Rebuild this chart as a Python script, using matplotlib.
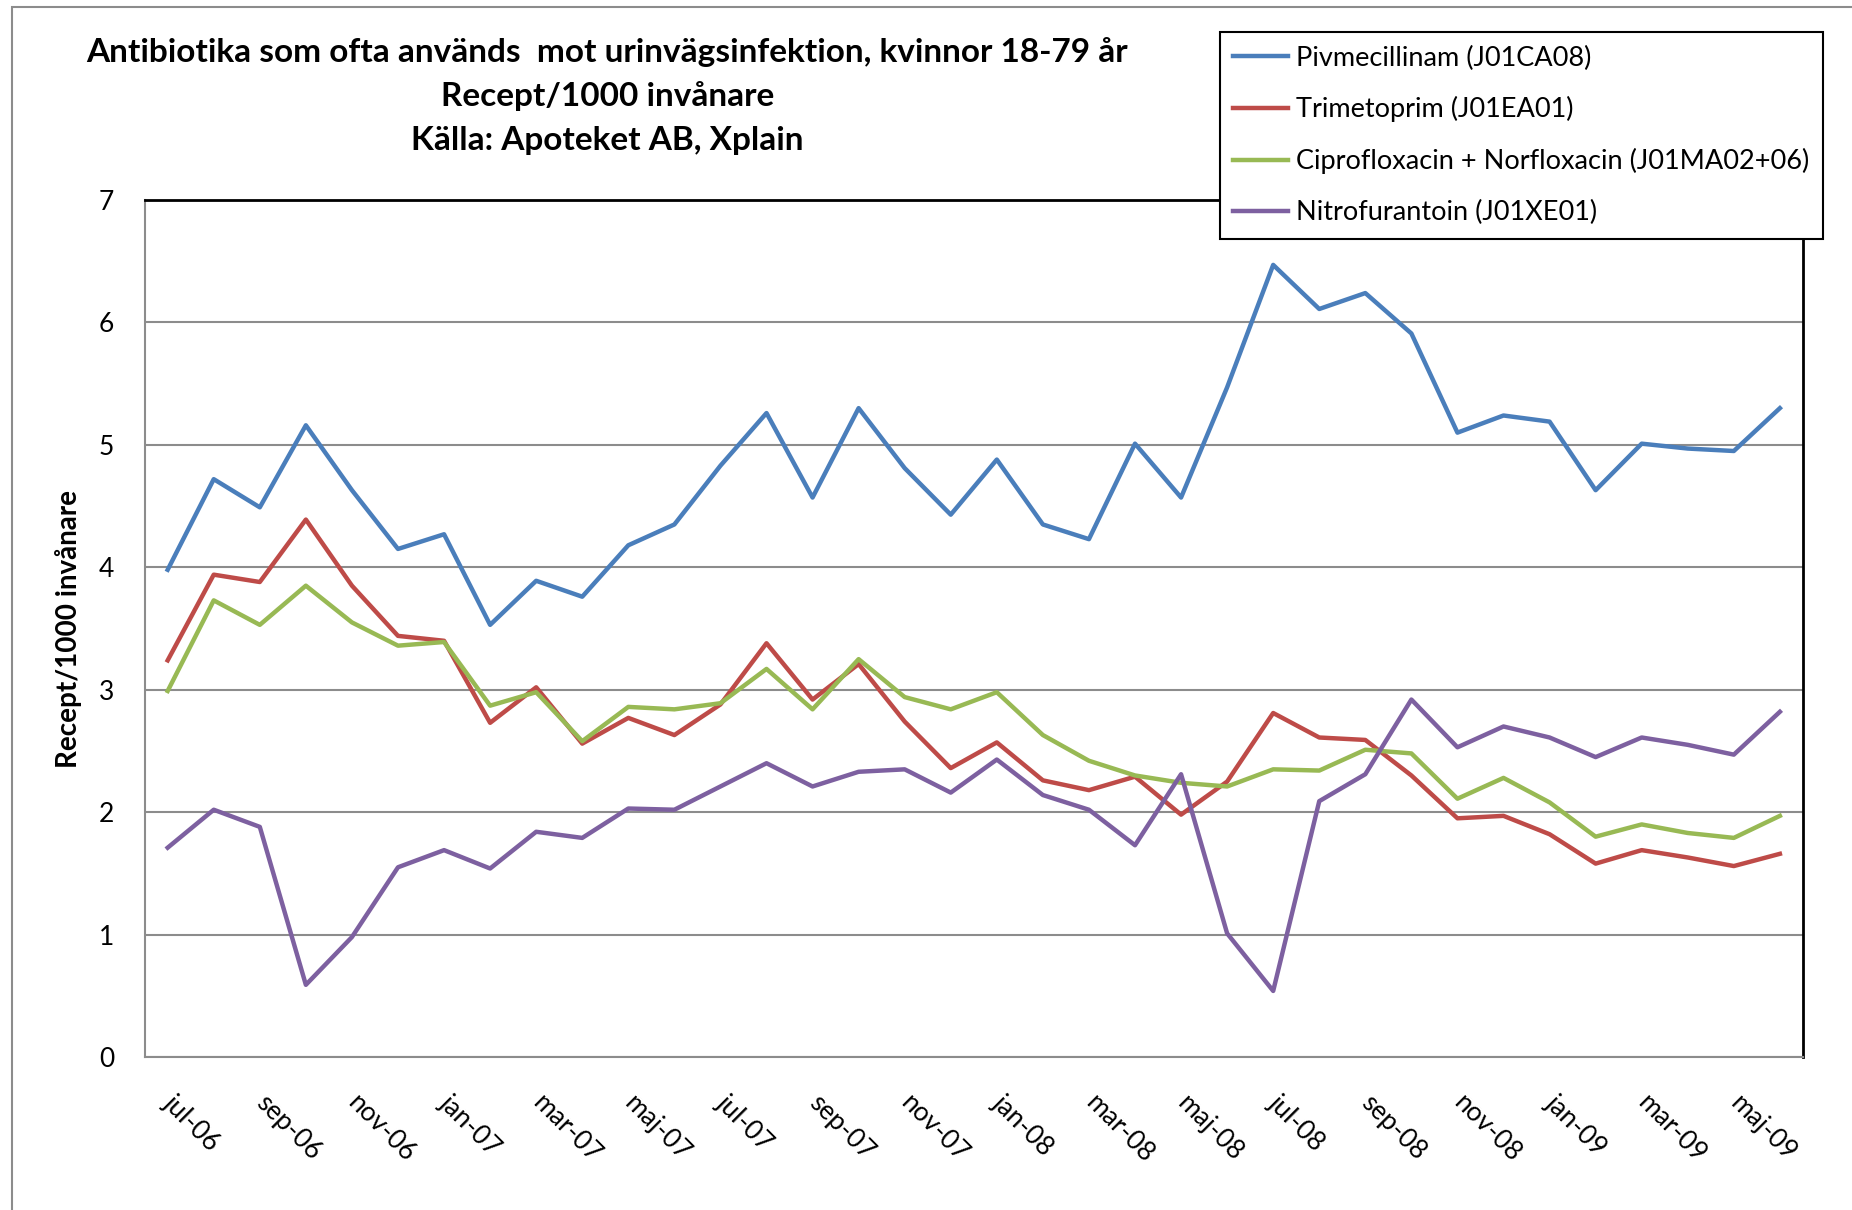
import matplotlib.pyplot as plt
from matplotlib.patches import Rectangle

plt.rcParams.update({
    "font.family": ["Lato", "DejaVu Sans"],
    "font.size": 19,
})

# monthly values jul-06 .. jun-09, Recept/1000 invånare
months = [
    "jul-06", "aug-06", "sep-06", "okt-06", "nov-06", "dec-06",
    "jan-07", "feb-07", "mar-07", "apr-07", "maj-07", "jun-07",
    "jul-07", "aug-07", "sep-07", "okt-07", "nov-07", "dec-07",
    "jan-08", "feb-08", "mar-08", "apr-08", "maj-08", "jun-08",
    "jul-08", "aug-08", "sep-08", "okt-08", "nov-08", "dec-08",
    "jan-09", "feb-09", "mar-09", "apr-09", "maj-09", "jun-09",
]

pivmecillinam = [
    3.98, 4.72, 4.49, 5.16, 4.63, 4.15, 4.27, 3.53, 3.89, 3.76, 4.18, 4.35,
    4.83, 5.26, 4.57, 5.30, 4.81, 4.43, 4.88, 4.35, 4.23, 5.01, 4.57, 5.47,
    6.47, 6.11, 6.24, 5.91, 5.10, 5.24, 5.19, 4.63, 5.01, 4.97, 4.95, 5.30,
]
trimetoprim = [
    3.24, 3.94, 3.88, 4.39, 3.85, 3.44, 3.40, 2.73, 3.02, 2.56, 2.77, 2.63,
    2.88, 3.38, 2.92, 3.21, 2.74, 2.36, 2.57, 2.26, 2.18, 2.29, 1.98, 2.25,
    2.81, 2.61, 2.59, 2.30, 1.95, 1.97, 1.82, 1.58, 1.69, 1.63, 1.56, 1.66,
]
cipro_norflox = [
    2.99, 3.73, 3.53, 3.85, 3.55, 3.36, 3.39, 2.87, 2.98, 2.58, 2.86, 2.84,
    2.89, 3.17, 2.84, 3.25, 2.94, 2.84, 2.98, 2.63, 2.42, 2.30, 2.24, 2.21,
    2.35, 2.34, 2.51, 2.48, 2.11, 2.28, 2.08, 1.80, 1.90, 1.83, 1.79, 1.97,
]
nitrofurantoin = [
    1.71, 2.02, 1.88, 0.59, 0.98, 1.55, 1.69, 1.54, 1.84, 1.79, 2.03, 2.02,
    2.21, 2.40, 2.21, 2.33, 2.35, 2.16, 2.43, 2.14, 2.02, 1.73, 2.31, 1.01,
    0.54, 2.09, 2.31, 2.92, 2.53, 2.70, 2.61, 2.45, 2.61, 2.55, 2.47, 2.82,
]

series = [
    ("Pivmecillinam (J01CA08)", pivmecillinam, "#4A7EBB"),
    ("Trimetoprim (J01EA01)", trimetoprim, "#BE4B48"),
    ("Ciprofloxacin + Norfloxacin (J01MA02+06)", cipro_norflox, "#98B954"),
    ("Nitrofurantoin (J01XE01)", nitrofurantoin, "#7D60A0"),
]

fig = plt.figure(figsize=(18.52, 12.10), dpi=100)
ax = fig.add_axes([0.0781, 0.1264, 0.8954, 0.7083])

x = range(len(months))
for label, values, color in series:
    ax.plot(x, values, color=color, lw=3.2, label=label, solid_joinstyle="round")

ax.set_xlim(-0.5, len(months) - 0.5)
ax.set_ylim(0, 7)
ax.set_yticks(range(0, 8))
ax.set_xticks(list(x)[::2])
ax.set_xticklabels(months[::2], rotation=-45, ha="left", va="center",
                   rotation_mode="anchor")
ax.tick_params(axis="x", length=0, pad=30)
ax.tick_params(axis="y", length=0, pad=22)
ax.grid(axis="y", color="#8C8C8C", lw=1.5)
ax.set_axisbelow(True)

for side in ("left", "bottom"):
    ax.spines[side].set_color("#8C8C8C")
    ax.spines[side].set_linewidth(1.5)
for side in ("top", "right"):
    ax.spines[side].set_color("black")
    ax.spines[side].set_linewidth(2)

ax.set_ylabel("Recept/1000 invånare", fontweight="bold", fontsize=20, labelpad=12)

# title block
title_lines = [
    "Antibiotika som ofta används  mot urinvägsinfektion, kvinnor 18-79 år",
    "Recept/1000 invånare",
    "Källa: Apoteket AB, Xplain",
]
for i, line in enumerate(title_lines):
    fig.text(0.328, 0.957 - i * 0.0365, line, ha="center", va="center",
             fontsize=24, fontweight="bold")

leg = fig.legend(loc="upper left", bbox_to_anchor=(0.6587, 0.9736),
                 borderaxespad=0, frameon=True, fancybox=False, fontsize=19.5,
                 handlelength=2.0, handletextpad=0.3, labelspacing=0.95,
                 borderpad=0.5)
leg.get_frame().set_edgecolor("black")
leg.get_frame().set_linewidth(1.5)
leg.get_frame().set_alpha(1)

# chart area border
fig.patches.append(Rectangle((12 / 1852, -0.5), 2, 1.5 - 7 / 1210,
                             transform=fig.transFigure, fill=False,
                             edgecolor="#8C8C8C", lw=1.5))

fig.savefig("out.png", dpi=100)
